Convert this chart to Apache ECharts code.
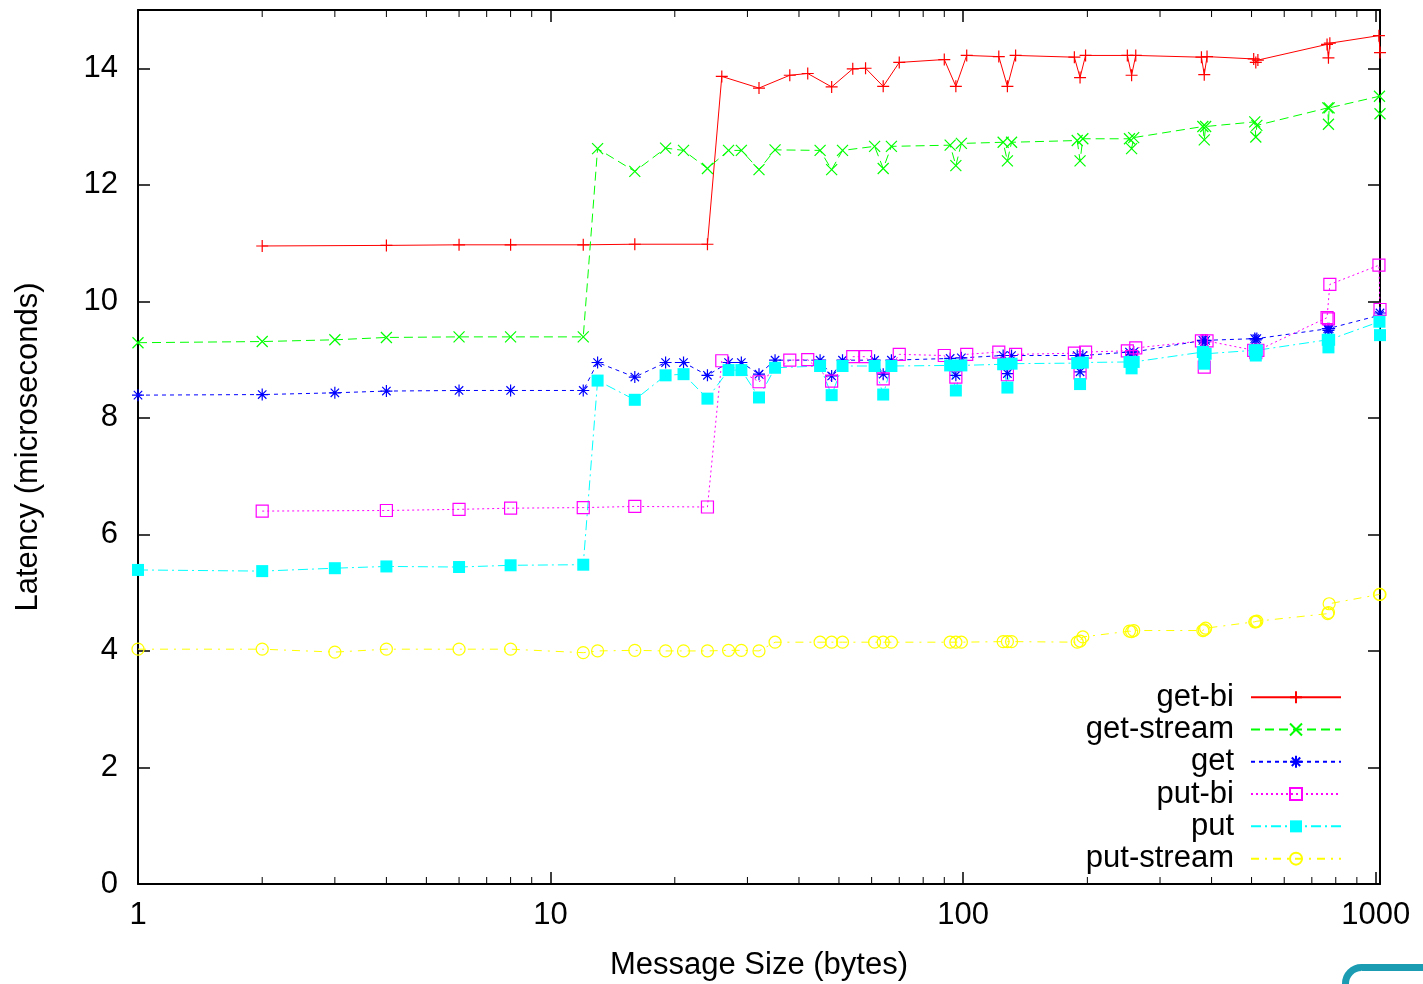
<!DOCTYPE html>
<html>
<head>
<meta charset="utf-8">
<title>Latency vs message size</title>
<script src="https://cdn.jsdelivr.net/npm/echarts@6/dist/echarts.min.js"></script>
<style>
  html, body { margin: 0; padding: 0; background: #fff; }
  #chart { width: 1423px; height: 984px; }
</style>
</head>
<body>
<div id="chart"></div>
<script>
// message sizes in bytes (the *-bi runs go in both directions, so twice the size)
var sizes = [1, 2, 3, 4, 6, 8, 12, 13, 16, 19, 21, 24, 27, 29, 32, 35, 45, 48, 51, 61, 64, 67,
  93, 96, 99, 125, 128, 131, 189, 192, 195, 253, 256, 259, 381, 384, 387, 509, 512, 515,
  765, 768, 771, 1021, 1024];
var sizesBi = [2, 4, 6, 8, 12, 16, 24, 26, 32, 38, 42, 48, 54, 58, 64, 70, 90, 96, 102, 122,
  128, 134, 186, 192, 198, 250, 256, 262, 378, 384, 390, 506, 512, 518, 762, 768, 774, 1018, 1024];

// latency in microseconds
var getBi = [10.95, 10.96, 10.97, 10.97, 10.97, 10.98, 10.98, 13.86, 13.66, 13.88, 13.91, 13.68,
  13.99, 14.0, 13.69, 14.1, 14.15, 13.69, 14.22, 14.2, 13.69, 14.22, 14.19, 13.84, 14.22,
  14.22, 13.88, 14.22, 14.19, 13.89, 14.2, 14.16, 14.1, 14.14, 14.41, 14.18, 14.43, 14.56, 14.27];
var getStream = [9.29, 9.31, 9.34, 9.38, 9.39, 9.39, 9.39, 12.62, 12.23, 12.63, 12.59, 12.28,
  12.59, 12.59, 12.26, 12.6, 12.59, 12.26, 12.59, 12.66, 12.28, 12.66, 12.68, 12.33, 12.71,
  12.73, 12.41, 12.73, 12.76, 12.41, 12.79, 12.79, 12.62, 12.81, 13.0, 12.77, 13.0, 13.08,
  12.82, 13.02, 13.32, 13.04, 13.32, 13.52, 13.22];
var get = [8.39, 8.4, 8.43, 8.46, 8.47, 8.47, 8.47, 8.95, 8.7, 8.95, 8.95, 8.73, 8.95, 8.95,
  8.75, 8.99, 8.99, 8.72, 8.99, 8.99, 8.75, 8.99, 9.02, 8.73, 9.03, 9.07, 8.76, 9.07, 9.07,
  8.79, 9.07, 9.13, 9.08, 9.13, 9.33, 9.3, 9.33, 9.36, 9.34, 9.36, 9.53, 9.5, 9.53, 9.76, 9.8];
var putBi = [6.4, 6.41, 6.43, 6.45, 6.46, 6.48, 6.47, 8.98, 8.62, 8.99, 9.0, 8.63, 9.05, 9.05,
  8.67, 9.09, 9.07, 8.7, 9.09, 9.13, 8.74, 9.09, 9.11, 8.77, 9.13, 9.15, 9.05, 9.2, 9.32,
  8.87, 9.32, 9.16, 9.12, 9.16, 9.72, 9.7, 10.29, 10.62, 9.86];
var put = [5.39, 5.37, 5.42, 5.45, 5.44, 5.47, 5.48, 8.64, 8.31, 8.73, 8.75, 8.33, 8.82, 8.82,
  8.35, 8.86, 8.89, 8.39, 8.89, 8.89, 8.4, 8.89, 8.9, 8.47, 8.9, 8.92, 8.52, 8.93, 8.94,
  8.58, 8.95, 8.96, 8.85, 8.96, 9.13, 8.93, 9.1, 9.16, 9.07, 9.16, 9.34, 9.21, 9.34, 9.65, 9.42];
var putStream = [4.03, 4.03, 3.98, 4.03, 4.03, 4.03, 3.97, 4.0, 4.01, 4.0, 4.0, 4.0, 4.01, 4.01,
  4.0, 4.15, 4.15, 4.15, 4.15, 4.15, 4.15, 4.15, 4.15, 4.15, 4.15, 4.16, 4.16, 4.16, 4.15,
  4.17, 4.24, 4.34, 4.33, 4.35, 4.35, 4.36, 4.39, 4.5, 4.5, 4.51, 4.64, 4.66, 4.81, 4.97, 4.97];

var xTickLabels = [1, 10, 100, 1000];
var minorTicks = [2, 3, 4, 5, 6, 7, 8, 9, 20, 30, 40, 50, 60, 70, 80, 90,
  200, 300, 400, 500, 600, 700, 800, 900];

var X_MIN = 1, X_MAX = 1024, Y_MIN = 0, Y_MAX = 15;
var FONT = "'Liberation Sans', Arial, sans-serif";

// gnuplot-like point shapes
var PLUS = 'path://M0,5L10,5M5,0L5,10';
var CROSS = 'path://M0,0L10,10M10,0L0,10';
var STAR = 'path://M0,5L10,5M5,0L5,10M1.5,1.5L8.5,8.5M8.5,1.5L1.5,8.5';

function pairs(xs, ys) {
  return xs.map(function (x, i) { return [x, ys[i]]; });
}

function lineSeries(name, xs, ys, color, dash, symbol, size, filled) {
  return {
    name: name,
    type: 'line',
    data: pairs(xs, ys),
    symbol: symbol,
    symbolSize: size,
    symbolKeepAspect: true,
    lineStyle: { color: color, width: 1, type: dash },
    itemStyle: {
      color: filled ? color : 'rgba(0,0,0,0)',
      borderColor: color,
      borderWidth: filled ? 0 : 1.2
    },
    emphasis: { disabled: true },
    clip: true
  };
}

var chart = echarts.init(document.getElementById('chart'), null, { renderer: 'canvas' });

var axisText = { color: '#000', fontFamily: FONT, fontSize: 31 };
var border = { show: true, onZero: false, lineStyle: { color: '#000', width: 2 } };

var option = {
  animation: false,
  backgroundColor: '#ffffff',
  textStyle: { fontFamily: FONT },
  // fixed plot box, no automatic shrinking for labels
  grid: { left: 138, right: 43, top: 10, bottom: 100, outerBoundsMode: 'none', containLabel: false },
  xAxis: [
    {
      type: 'log', logBase: 10, min: X_MIN, max: X_MAX, position: 'bottom',
      name: 'Message Size (bytes)', nameLocation: 'middle', nameGap: 66,
      nameTextStyle: axisText,
      axisLine: border,
      axisTick: { inside: true, length: 12, lineStyle: { color: '#000', width: 1.5 } },
      axisLabel: {
        margin: 16, color: '#000', fontFamily: FONT, fontSize: 31,
        formatter: function (v) {
          return xTickLabels.indexOf(Math.round(v)) >= 0 && Math.abs(v - Math.round(v)) < 1e-6 ? String(Math.round(v)) : '';
        }
      },
      splitLine: { show: false }
    },
    {
      type: 'log', logBase: 10, min: X_MIN, max: X_MAX, position: 'top',
      axisLine: border,
      axisTick: { inside: true, length: 12, lineStyle: { color: '#000', width: 1.5 } },
      axisLabel: { show: false },
      splitLine: { show: false }
    }
  ],
  yAxis: [
    {
      type: 'value', min: Y_MIN, max: Y_MAX, interval: 2, position: 'left',
      name: 'Latency (microseconds)', nameLocation: 'middle', nameGap: 94,
      nameTextStyle: axisText,
      axisLine: border,
      axisTick: { inside: true, length: 12, lineStyle: { color: '#000', width: 1.5 } },
      axisLabel: {
        margin: 20, color: '#000', fontFamily: FONT, fontSize: 31,
        formatter: function (v) { return v % 2 === 0 ? String(v) : ''; }
      },
      splitLine: { show: false }
    },
    {
      type: 'value', min: Y_MIN, max: Y_MAX, interval: 2, position: 'right',
      axisLine: border,
      axisTick: { inside: true, length: 12, lineStyle: { color: '#000', width: 1.5 } },
      axisLabel: { show: false },
      splitLine: { show: false }
    }
  ],
  legend: {
    orient: 'vertical',
    align: 'right',
    right: 81,
    top: 681,
    padding: 0,
    itemGap: 0,
    itemWidth: 90,
    itemHeight: 15,
    textStyle: {
      color: '#000', fontFamily: FONT, fontSize: 31, lineHeight: 32.3,
      padding: [0, 12, 0, 0]
    },
    data: ['get-bi', 'get-stream', 'get', 'put-bi', 'put', 'put-stream']
  },
  graphic: [
    {
      type: 'rect', left: 1342, top: 964,
      shape: { width: 120, height: 60, r: 16 },
      style: { fill: '#fff', stroke: '#1b9cb3', lineWidth: 7 }
    }
  ],
  series: [
    {
      // log-axis minor ticks, bottom and top
      type: 'custom',
      silent: true,
      clip: false,
      data: minorTicks.map(function (v) { return [v, Y_MIN]; }),
      renderItem: function (params, api) {
        var b = api.coord([api.value(0), Y_MIN]);
        var t = api.coord([api.value(0), Y_MAX]);
        var st = { stroke: '#000', lineWidth: 1 };
        return {
          type: 'group',
          children: [
            { type: 'line', shape: { x1: b[0], y1: b[1], x2: b[0], y2: b[1] - 7 }, style: st },
            { type: 'line', shape: { x1: t[0], y1: t[1], x2: t[0], y2: t[1] + 7 }, style: st }
          ]
        };
      }
    },
    lineSeries('get-bi', sizesBi, getBi, '#ff0000', 'solid', PLUS, 12, false),
    lineSeries('get-stream', sizes, getStream, '#00ff00', [9, 5], CROSS, 11, false),
    lineSeries('get', sizes, get, '#0000ff', [4, 4], STAR, 12, false),
    lineSeries('put-bi', sizesBi, putBi, '#ff00ff', [2, 3], 'rect', 12, false),
    lineSeries('put', sizes, put, '#00ffff', [10, 4, 2, 4], 'rect', 12, true),
    lineSeries('put-stream', sizes, putStream, '#ffff00', [8, 6, 2, 6], 'circle', 12, false)
  ]
};

chart.setOption(option);
window.addEventListener('resize', function () { chart.resize(); });
</script>
</body>
</html>
